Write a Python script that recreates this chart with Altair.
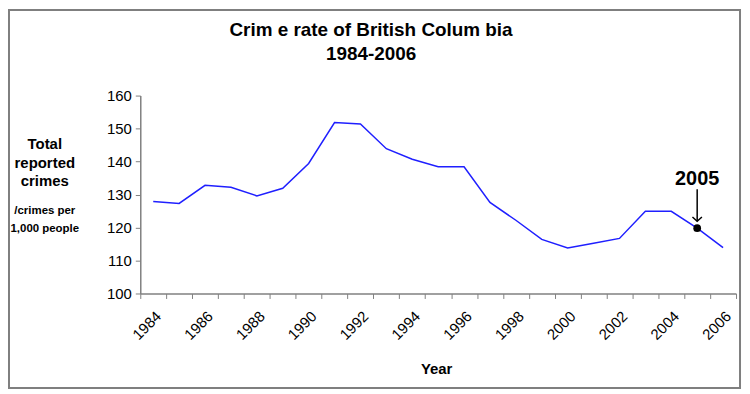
import altair as alt
import pandas as pd

years = list(range(1984, 2007))
rates = [127.9, 127.3, 132.8, 132.2, 129.6, 131.9, 139.4, 151.8, 151.4, 143.9,
         140.7, 138.4, 138.4, 127.6, 122.2, 116.4, 113.8, 115.2, 116.7, 124.9,
         124.9, 119.8, 113.9]
y_ticks = [100, 110, 120, 130, 140, 150, 160]
title_lines = ["Crim e rate of British Colum bia", "1984-2006"]
ylabel_main = ["Total", "reported", "crimes"]
ylabel_unit = ["/crimes per", "1,000 people"]
x_title = "Year"
highlight_year = 2005
highlight_rate = 119.8
arrow_top = 131.6
arrow_tip = 121.9
label_rate = 132.9

FONT = "Liberation Sans"
W, H = 599, 199

df = pd.DataFrame({"year": years, "rate": rates})
hl = pd.DataFrame({"year": [highlight_year], "rate": [highlight_rate],
                   "top": [arrow_top], "tip": [arrow_tip], "lab": [label_rate],
                   "txt": [str(highlight_year)]})
one = pd.DataFrame({"k": [0]})

xscale = alt.Scale(type="band", paddingInner=0, paddingOuter=0, domain=years)
yscale = alt.Scale(domain=[100, 160], nice=False, zero=False)

x_axis = alt.Axis(tickBand="extent", labelAngle=-45, labelAlign="right",
                  labelBaseline="top", labelPadding=10, labelFontSize=15,
                  labelFont=FONT, labelColor="black",
                  labelExpr="toNumber(datum.value) % 2 == 0 ? datum.label : ''",
                  tickSize=5, tickColor="#808080", domainColor="#808080",
                  domainWidth=1.5, grid=False, labelOverlap=False)
y_axis = alt.Axis(values=y_ticks, tickCount=7, tickSize=5, tickColor="#808080",
                  domainColor="#808080", domainWidth=1.5, grid=False,
                  labelFontSize=15, labelFont=FONT, labelColor="black",
                  labelPadding=4, labelOverlap=False)

xs = alt.X("year:O", scale=xscale, axis=x_axis, title=None)
def ys(f):
    return alt.Y(f, type="quantitative", scale=yscale, axis=y_axis, title=None)

line = alt.Chart(df).mark_line(color="#1f1fff", strokeWidth=1.5).encode(x=xs, y=ys("rate"))

dot = alt.Chart(hl).mark_point(filled=True, color="black", size=60, opacity=1).encode(
    x=xs, y=ys("rate"))
shaft = alt.Chart(hl).mark_rule(color="black", strokeWidth=1.5).encode(
    x=xs, y=ys("top"), y2="tip:Q")
head = alt.Chart(hl).mark_point(shape="M -1 -0.9 L 0 0 L 1 -0.9", filled=False,
                                color="black", strokeWidth=1.5, size=90, opacity=1).encode(
    x=xs, y=ys("tip"))
lab = alt.Chart(hl).mark_text(font=FONT, fontSize=20, fontWeight="bold", color="black",
                              baseline="alphabetic", align="center").encode(
    x=xs, y=ys("lab"), text="txt:N")

title = alt.Chart(one).mark_text(font=FONT, fontSize=19, fontWeight="bold", color="black",
                                 align="center", baseline="alphabetic", lineHeight=24).encode(
    x=alt.value(232), y=alt.value(-60), text=alt.value(title_lines))
yl1 = alt.Chart(one).mark_text(font=FONT, fontSize=15, fontWeight="bold", color="black",
                               align="center", baseline="alphabetic", lineHeight=18.5).encode(
    x=alt.value(-96), y=alt.value(54), text=alt.value(ylabel_main))
yl2 = alt.Chart(one).mark_text(font=FONT, fontSize=11.5, fontWeight="bold", color="black",
                               align="center", baseline="alphabetic", lineHeight=18).encode(
    x=alt.value(-96), y=alt.value(119), text=alt.value(ylabel_unit))
xt = alt.Chart(one).mark_text(font=FONT, fontSize=15, fontWeight="bold", color="black",
                              align="center", baseline="middle").encode(
    x=alt.value(298), y=alt.value(275), text=alt.value(x_title))
border = alt.Chart(one).mark_rect(fill=None, stroke="#7f7f7f", strokeWidth=2).encode(
    x=alt.value(-132), x2=alt.value(603), y=alt.value(-86), y2=alt.value(294))

chart = alt.layer(border, line, shaft, head, dot, lab, title, yl1, yl2, xt).properties(
    width=W, height=H,
    autosize=alt.AutoSizeParams(type="none"),
    padding={"left": 133, "top": 87, "right": 6, "bottom": 97},
    background="white",
).configure_view(stroke=None)

chart.save("out.html", embed_options={"renderer": "svg", "actions": False})
